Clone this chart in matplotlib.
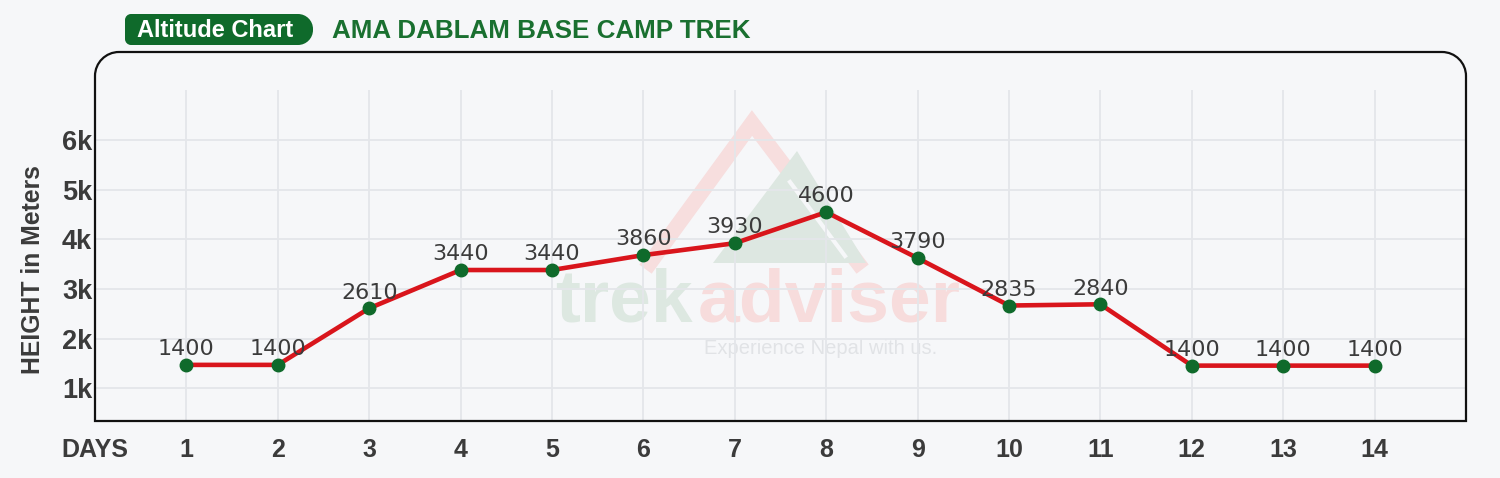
import matplotlib.pyplot as plt
import matplotlib.transforms as mtransforms
from matplotlib.path import Path
from matplotlib.patches import PathPatch, Polygon
from matplotlib.lines import Line2D

# data
days = list(range(1, 15))
altitude_labels = [1400, 1400, 2610, 3440, 3440, 3860, 3930, 4600, 3790, 2835, 2840, 1400, 1400, 1400]
# heights where the markers sit on the original picture
altitude_plotted = [1470, 1470, 2610, 3380, 3380, 3680, 3920, 4545, 3620, 2665, 2690, 1455, 1455, 1455]
x_tick_labels = ['DAYS'] + [str(d) for d in days]
y_ticks = [1000, 2000, 3000, 4000, 5000, 6000]
y_tick_labels = ['1k', '2k', '3k', '4k', '5k', '6k']

W, H = 1500, 478
bg = '#f6f7f9'
dark = '#3b3b3b'
green = '#0f6a2b'
red = '#d9151c'

plt.rcParams['font.family'] = ['Liberation Sans', 'DejaVu Sans']

fig = plt.figure(figsize=(W / 100, H / 100), dpi=100, facecolor=bg)
# transform in pixels, y up
px = mtransforms.Affine2D().scale(1 / W, 1 / H) + fig.transFigure


def rounded_path(x0, y0, x1, y1, r_tl=0, r_tr=0, r_br=0, r_bl=0):
    k = 0.5523
    verts = [(x0, y0 + r_bl), (x0, y1 - r_tl)]
    codes = [Path.MOVETO, Path.LINETO]
    if r_tl:
        verts += [(x0, y1 - r_tl + k * r_tl), (x0 + r_tl - k * r_tl, y1), (x0 + r_tl, y1)]
        codes += [Path.CURVE4] * 3
    verts.append((x1 - r_tr, y1))
    codes.append(Path.LINETO)
    if r_tr:
        verts += [(x1 - r_tr + k * r_tr, y1), (x1, y1 - r_tr + k * r_tr), (x1, y1 - r_tr)]
        codes += [Path.CURVE4] * 3
    verts.append((x1, y0 + r_br))
    codes.append(Path.LINETO)
    if r_br:
        verts += [(x1, y0 + r_br - k * r_br), (x1 - r_br + k * r_br, y0), (x1 - r_br, y0)]
        codes += [Path.CURVE4] * 3
    verts.append((x0 + r_bl, y0))
    codes.append(Path.LINETO)
    if r_bl:
        verts += [(x0 + r_bl - k * r_bl, y0), (x0, y0 + r_bl - k * r_bl), (x0, y0 + r_bl)]
        codes += [Path.CURVE4] * 3
    verts.append(verts[0])
    codes.append(Path.CLOSEPOLY)
    return Path(verts, codes)


# main plot area
box_l, box_r, box_t, box_b = 95, 1466, 52, 421
ax = fig.add_axes([box_l / W, 1 - box_b / H, (box_r - box_l) / W, (box_b - box_t) / H])
ax.set_facecolor(bg)
for s in ax.spines.values():
    s.set_visible(False)
ax.set_xlim(0, 15)
ax.set_ylim(340, 7770)

# grid
ax.hlines(y_ticks, 0, 15, color='#e4e6ea', lw=1.3, zorder=1)
ax.vlines(days, 340, 7000, color='#e4e6ea', lw=1.3, zorder=1)

# watermark
ax.add_line(Line2D([650, 752, 858], [H - 263, H - 123, H - 263], transform=px,
                   color='#f7dede', lw=11, solid_joinstyle='miter', zorder=0.5))
ax.add_patch(Polygon([(713, H - 263), (797, H - 151), (866, H - 263)], closed=True,
                     transform=px, facecolor='#dde7e1', edgecolor='none', zorder=0.6))
ax.add_line(Line2D([790, 845], [H - 182, H - 256], transform=px,
                   color=bg, lw=3, zorder=0.7))
ax.text(693, H - 321, 'trek', transform=px, ha='right', va='baseline',
        fontsize=54, fontweight='bold', color='#dde8e1', zorder=0.8)
ax.text(698, H - 321, 'adviser', transform=px, ha='left', va='baseline',
        fontsize=54, fontweight='bold', color='#f7dcdc', zorder=0.8)
ax.text(704, H - 354, 'Experience Nepal with us.', transform=px, ha='left', va='baseline',
        fontsize=14.5, color='#e1e3e6', zorder=0.8)

# the altitude line
ax.plot(days, altitude_plotted, color=red, lw=3.3, zorder=3, solid_capstyle='round')
ax.plot(days, altitude_plotted, 'o', color=green, markersize=9, zorder=4)
for d, h, lab in zip(days, altitude_plotted, altitude_labels):
    ax.annotate(str(lab), (d, h), xytext=(0, 7), textcoords='offset points',
                ha='center', va='baseline', fontsize=16, color=dark,
                family='DejaVu Sans', zorder=5)

ax.set_xticks([0] + days)
ax.set_xticklabels(x_tick_labels)
ax.set_yticks(y_ticks)
ax.set_yticklabels(y_tick_labels)
ax.tick_params(axis='both', length=0, colors=dark)
ax.tick_params(axis='x', pad=12, labelsize=18)
ax.tick_params(axis='y', pad=2, labelsize=19.5)
for t in ax.get_xticklabels() + ax.get_yticklabels():
    t.set_fontweight('bold')

# frame with rounded top corners
fig.add_artist(PathPatch(rounded_path(box_l, H - box_b, box_r, H - box_t, r_tl=24, r_tr=24),
                         transform=px, facecolor='none', edgecolor='#111111', lw=1.6))

fig.text(33, H - 270, 'HEIGHT in Meters', transform=px, rotation=90, ha='center', va='center',
         fontsize=17.8, fontweight='bold', color=dark)

# header
fig.add_artist(PathPatch(rounded_path(125, H - 45, 313, H - 14, r_tl=6, r_tr=15, r_br=15, r_bl=6),
                         transform=px, facecolor=green, edgecolor='none'))
fig.text(215, H - 30, 'Altitude Chart', transform=px, ha='center', va='center',
         fontsize=17, fontweight='bold', color='white')
fig.text(332, H - 31, 'AMA DABLAM BASE CAMP TREK', transform=px, ha='left', va='center',
         fontsize=18.7, fontweight='bold', color='#1a7030')

fig.savefig('out.png', dpi=100, facecolor=bg)
